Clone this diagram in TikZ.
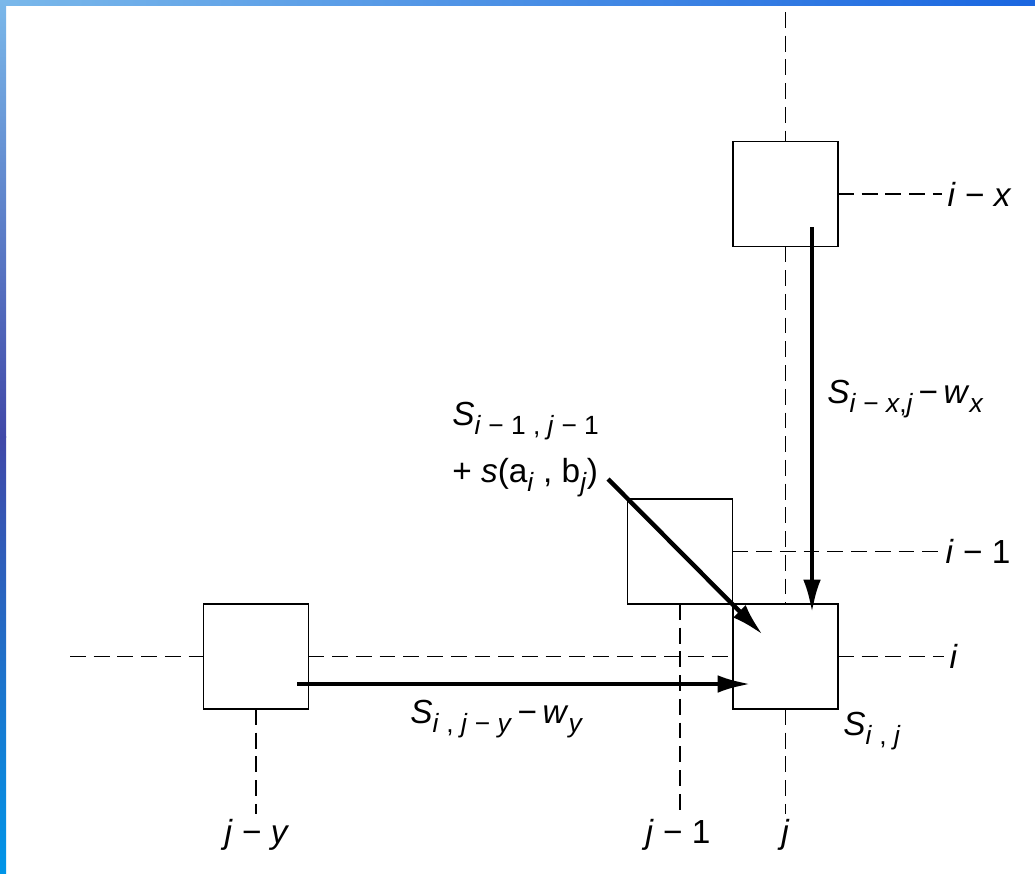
\documentclass[tikz,border=0pt]{standalone}
\usepackage{fontspec}
\setmainfont{Liberation Sans}
\usetikzlibrary{calc,arrows.meta}
\definecolor{edgelight}{HTML}{7AB8EA}
\definecolor{edgemid}{HTML}{5A90E0}
\definecolor{edgedeep}{HTML}{4048A8}
\definecolor{edgeblue}{HTML}{2A5ED8}
\definecolor{edgecyan}{HTML}{0095E8}
\definecolor{edgeright}{HTML}{1A66E0}
\newcommand{\ix}[1]{\textit{#1}}
\newcommand{\sbs}[1]{\raisebox{-5.5pt}{\fontsize{15}{17}\selectfont #1}}
\tikzset{
  cell/.style={draw, line width=1.1pt, minimum size=2.1cm, inner sep=0pt, outer sep=0pt},
  grid/.style={line width=1.1pt, dash pattern=on 9pt off 4.5pt},
  move/.style={line width=2.5pt, -{Latex[length=19pt,width=10pt]}},
  lbl/.style={font=\fontsize{19}{22}\selectfont, inner sep=0pt},
  tick/.style={lbl, inner sep=3pt},
}
\begin{document}
\begin{tikzpicture}[x=0.02cm,y=-0.02cm]
  \useasboundingbox (0,0) rectangle (1035,873);
  \fill[white] (0,0) rectangle (1035,873);
  % slide border
  \shade[left color=edgelight, middle color=edgemid, right color=edgeright] (0,0) rectangle (1035,5);
  \shade[top color=edgelight, middle color=edgemid, bottom color=edgedeep] (0,0) rectangle (6,437);
  \shade[top color=edgedeep, middle color=edgeblue, bottom color=edgecyan] (0,436) rectangle (6,873);
  % cells
  \node[cell] (top) at (785.5,194) {};
  \node[cell] (diag) at (680,551.5) {};
  \node[cell] (main) at (785.5,656.5) {};
  \node[cell] (left) at (256,656.5) {};
  % row and column labels
  \node[tick, anchor=west] (lix) at (942,194) {\ix{i} − \ix{x}};
  \node[tick, anchor=west] (li1) at (940,551.5) {\ix{i} − 1};
  \node[tick, anchor=west] (li) at (944,656.5) {\ix{i}};
  \node[tick, anchor=north] (ljy) at (257,814) {\ix{j} − \ix{y}};
  \node[tick, anchor=north] (lj1) at (678,814) {\ix{j} − 1};
  \node[tick, anchor=north] (lj) at (785.5,814) {\ix{j}};
  \coordinate (jtop) at (785.5,12);
  \coordinate (ileft) at (70,656.5);
  % grid lines
  \draw[grid] (jtop) -- (top.north);
  \draw[grid] (top.south) -- (main.north);
  \draw[grid] (main.south) -- (lj.north);
  \draw[grid] (diag.south) -- (diag.south |- lj1.north);
  \draw[grid] (left.south) -- (left.south |- ljy.north);
  \draw[grid] (top.east) -- (lix.west);
  \draw[grid] (diag.east) -- (li1.west);
  \draw[grid] (ileft) -- (left.west);
  \draw[grid] (left.east) -- (main.west);
  \draw[grid] (main.east) -- (li.west);
  % moves into S_{i,j}
  \draw[move] ($(top)+(26.5,33)$) -- ($(main)+(26.5,-43.5)$);
  \draw[move] ($(left)+(41,27.5)$) -- ($(main)+(-34.5,27.5)$);
  \draw[move] ($(diag)+(-72,-72.5)$) -- ($(main)+(-22.5,-21.5)$);
  % scores
  \node[lbl, anchor=base west] (sx) at (827,403) {\ix{S}\sbs{\ix{i} − \ix{x},\ix{j}}\,−\,\ix{w}\sbs{\ix{x}}};
  \node[lbl, anchor=base west] (sd) at (452,425) {\ix{S}\sbs{\ix{i} − 1 , \ix{j} − 1}};
  \node[lbl, anchor=base west] (sdb) at (452,482) {+ \ix{s}(a\sbs{\ix{i}} , b\sbs{\ix{j}})};
  \node[lbl, anchor=base west] (sy) at (410,723) {\ix{S}\sbs{\ix{i} , \ix{j} − \ix{y}}\,−\,\ix{w}\sbs{\ix{y}}};
  \node[lbl, anchor=base west] (sij) at (843,735) {\ix{S}\sbs{\ix{i} , \ix{j}}};
\end{tikzpicture}
\end{document}
